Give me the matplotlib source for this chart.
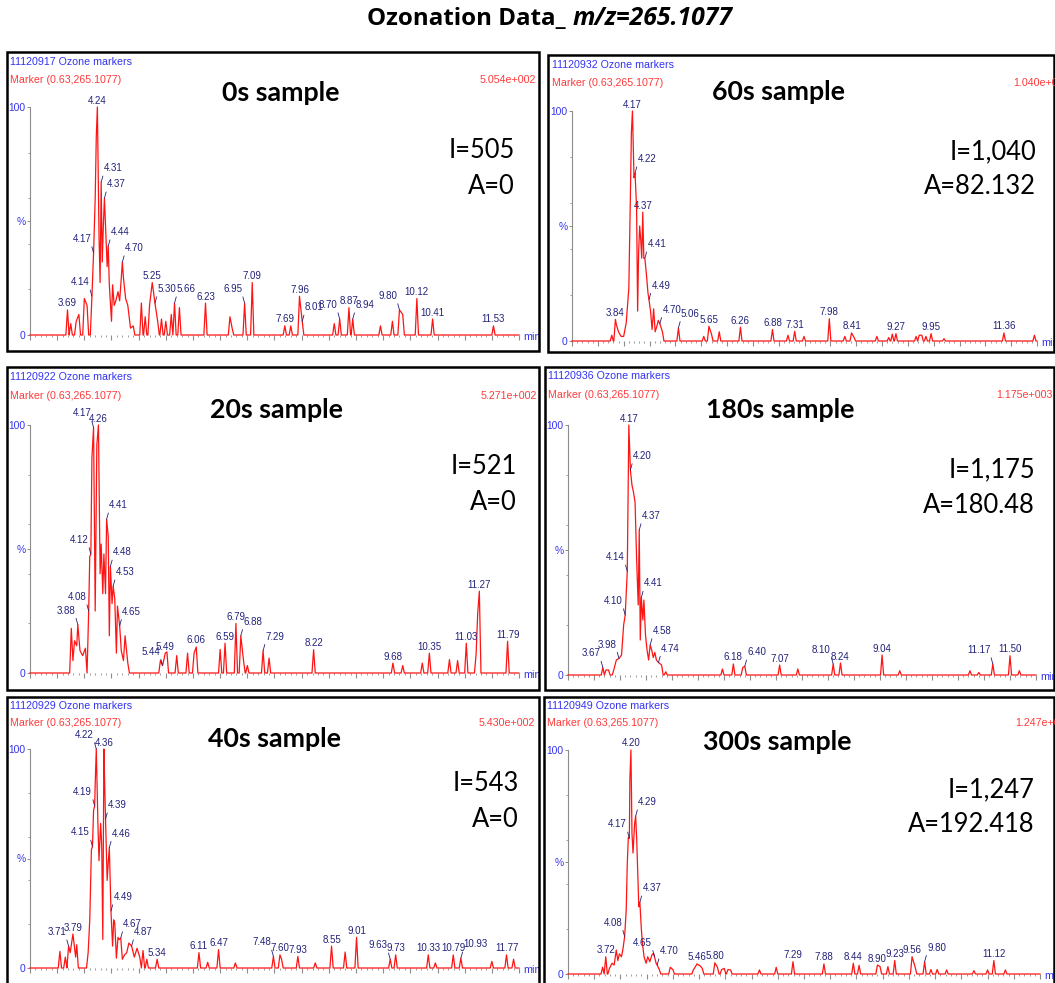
import matplotlib
matplotlib.use("Agg")
import matplotlib.pyplot as plt
from matplotlib.patches import Rectangle
from matplotlib.ticker import MultipleLocator, FixedLocator

W, H = 1055, 983
PX = 0.72  # points per pixel at dpi=100

SMALL = ["Liberation Sans", "DejaVu Sans"]
BIG = ["Lato", "DejaVu Sans"]
TITLE = ["Open Sans", "DejaVu Sans"]

BLUE = "#3434f0"
RED = "#ff3a3a"
NAVY = "#22227a"
GRAY = "#8c8c8c"
TRACE = "#ff1414"

# ---- sample info ----
samples = ["0s", "20s", "40s", "60s", "180s", "300s"]
run_ids = ["11120917", "11120922", "11120929", "11120932", "11120936", "11120949"]
max_int = ["5.054e+002", "5.271e+002", "5.430e+002", "1.040e+003", "1.175e+003", "1.247e+003"]
I_vals = ["505", "521", "543", "1,040", "1,175", "1,247"]
A_vals = ["0", "0", "0", "82.132", "180.48", "192.418"]

# ---- peaks: retention time (min), relative intensity (%) ----
rt_0s = [3.69, 3.75, 3.85, 3.90, 4.00, 4.05, 4.14, 4.17, 4.20, 4.22, 4.24, 4.27, 4.29,
         4.31, 4.33, 4.35, 4.37, 4.39, 4.42, 4.44, 4.46, 4.50, 4.52, 4.55, 4.58, 4.62,
         4.65, 4.68, 4.70, 4.72, 4.76, 4.80, 4.85, 4.90, 5.05, 5.12, 5.20, 5.25, 5.30,
         5.35, 5.42, 5.50, 5.60, 5.66, 5.75, 6.23, 6.68, 6.72, 6.95, 7.09, 7.69, 7.80,
         7.96, 8.01, 8.60, 8.70, 8.87, 8.94, 9.45, 9.67, 9.80, 9.86, 10.12, 10.41, 11.53]
int_0s = [11, 5, 6, 9, 16, 13, 17, 36, 60, 87, 100, 44, 23,
          67, 32, 48, 60, 48, 30, 39, 22, 6, 22, 13, 15, 19,
          15, 25, 32, 25, 16, 13, 3, 4, 14, 8, 13, 23, 14,
          6, 7, 6, 9, 14, 12, 14, 8, 3, 14, 23, 4, 4,
          17, 6, 5, 7, 12, 7, 4, 6, 11, 9, 16, 7, 4]
lab_0s = [3.69, 4.14, 4.17, 4.24, 4.31, 4.37, 4.44, 4.70, 5.25, 5.30, 5.66, 6.23, 6.95,
          7.09, 7.69, 7.96, 8.01, 8.70, 8.87, 8.94, 9.80, 10.12, 10.41, 11.53]
side_0s = "cllcrrrrcrrclcccrlcrlccc"

rt_20s = [3.76, 3.79, 3.82, 3.86, 3.88, 3.92, 3.97, 4.02, 4.08, 4.10, 4.12, 4.14, 4.17,
          4.20, 4.23, 4.26, 4.29, 4.31, 4.34, 4.36, 4.39, 4.41, 4.44, 4.46, 4.48, 4.51,
          4.53, 4.56, 4.59, 4.61, 4.65, 4.68, 4.72, 4.75, 4.80, 5.40, 5.44, 5.49, 5.52,
          5.70, 5.90, 6.02, 6.06, 6.50, 6.59, 6.79, 6.88, 6.93, 7.00, 7.29, 7.40, 8.22,
          9.68, 9.86, 10.22, 10.35, 10.72, 10.87, 11.03, 11.21, 11.24, 11.27, 11.79]
int_20s = [18, 5, 13, 11, 19.5, 9, 7, 10, 25, 47, 48, 87, 99,
           25, 92, 100, 40, 52, 32, 48, 32, 62, 55, 15, 43, 28,
           35, 30, 8, 27, 19, 9, 5, 15, 4, 5, 3, 8, 8.5,
           7, 8, 8, 10.5, 9.5, 12, 20, 15, 5, 3, 9, 6, 9.4,
           4, 3, 4, 8, 5.4, 5, 12, 7.4, 24, 33, 12.8]
lab_20s = [3.88, 4.08, 4.12, 4.17, 4.26, 4.41, 4.48, 4.53, 4.65, 5.44, 5.49, 6.06, 6.59,
           6.79, 6.88, 7.29, 8.22, 9.68, 10.35, 11.03, 11.27, 11.79]
side_20s = "llllcrrrrlccccrrcccccc"

rt_40s = [3.55, 3.65, 3.71, 3.74, 3.79, 3.84, 3.86, 4.07, 4.10, 4.13, 4.15, 4.17, 4.19,
          4.20, 4.22, 4.25, 4.27, 4.30, 4.32, 4.34, 4.36, 4.37, 4.39, 4.42, 4.44, 4.46,
          4.48, 4.49, 4.52, 4.54, 4.56, 4.59, 4.62, 4.64, 4.67, 4.70, 4.74, 4.78, 4.82,
          4.87, 4.92, 4.97, 5.02, 5.08, 5.15, 5.34, 6.11, 6.27, 6.47, 6.78, 7.48, 7.60,
          7.63, 7.93, 8.25, 8.55, 8.80, 9.01, 9.63, 9.73, 10.33, 10.46, 10.79, 10.93,
          11.50, 11.77, 11.90]
int_40s = [7.6, 5, 10, 7, 15.5, 5, 10.6, 7, 22, 54, 55.5, 72, 74,
           84, 100, 66, 49, 66, 56, 13, 100, 89, 68, 40, 48, 55,
           36, 26, 10, 22, 20.5, 4.5, 14, 13, 13.7, 4, 6, 7, 11.4,
           10, 5, 9, 5, 8, 4, 4, 7, 2.6, 8.4, 2.3, 5.3, 6,
           4, 5.3, 2.3, 10, 7.3, 14, 4, 6, 6, 2.3, 6, 4.5,
           3, 6, 4]
lab_40s = [3.71, 3.79, 4.15, 4.19, 4.22, 4.36, 4.39, 4.46, 4.49, 4.67, 4.87, 5.34, 6.11,
           6.47, 7.48, 7.60, 7.93, 8.55, 9.01, 9.63, 9.73, 10.33, 10.79, 10.93, 11.77]
side_40s = "lclllcrrrrrccclccccl cccrc".replace(" ", "")

rt_60s = [3.77, 3.84, 3.86, 3.90, 3.95, 4.00, 4.05, 4.10, 4.13, 4.15, 4.17, 4.20, 4.22,
          4.25, 4.27, 4.29, 4.31, 4.33, 4.35, 4.37, 4.39, 4.41, 4.44, 4.47, 4.49, 4.52,
          4.55, 4.58, 4.61, 4.65, 4.67, 4.70, 4.75, 5.06, 5.55, 5.65, 5.70, 5.85, 6.26,
          6.88, 7.18, 7.31, 7.49, 7.98, 8.28, 8.41, 8.46, 8.90, 9.13, 9.20, 9.27, 9.66,
          9.72, 9.77, 9.85, 9.95, 10.20, 11.36, 11.95]
int_60s = [2.5, 9.4, 7, 4, 2, 2, 8, 23, 63, 91, 100, 71, 73,
           58, 13, 39, 50, 44, 36, 56, 36, 36, 29, 21, 18, 13,
           5, 14, 4, 7, 9, 7.5, 4, 5.7, 2, 6.4, 3, 4, 6,
           5, 2.5, 4.2, 2, 9.7, 2, 3.5, 1.5, 2, 1.5, 3, 3.2, 2,
           2.5, 2.5, 2, 3.2, 1, 3.5, 2.5]
lab_60s = [3.84, 4.17, 4.22, 4.37, 4.41, 4.49, 4.70, 5.06, 5.65, 6.26, 6.88, 7.31, 7.98,
           8.41, 9.27, 9.95, 11.36]
side_60s = "ccrcrrrrccccccccc"

rt_180s = [3.67, 3.73, 3.78, 3.88, 3.93, 3.98, 4.03, 4.07, 4.10, 4.14, 4.17, 4.20, 4.23,
           4.26, 4.29, 4.32, 4.35, 4.37, 4.39, 4.41, 4.44, 4.46, 4.49, 4.52, 4.55, 4.58,
           4.61, 4.64, 4.67, 4.70, 4.74, 4.80, 4.88, 5.97, 6.18, 6.36, 6.40, 7.07, 7.42,
           8.10, 8.24, 9.04, 9.38, 10.73, 10.90, 11.17, 11.50, 11.68]
int_180s = [3, 2, 2, 2, 6, 6.6, 8, 20, 24, 41.5, 100, 82, 76,
            73, 69, 46, 28, 58, 14, 31, 22, 30, 16, 10, 6, 12,
            10, 7, 9, 6, 5, 4, 1.3, 2.4, 4.4, 3, 3.5, 4, 2.4,
            4.4, 4.8, 8, 1.7, 1.7, 1, 4.4, 7.7, 1.7]
lab_180s = [3.67, 3.98, 4.10, 4.14, 4.17, 4.20, 4.37, 4.41, 4.58, 4.74, 6.18, 6.40, 7.07,
            8.10, 8.24, 9.04, 11.17, 11.50]
side_180s = "llllcrrrrrcrclcclc"

rt_300s = [3.66, 3.72, 3.79, 3.84, 3.88, 3.92, 3.95, 3.98, 4.02, 4.05, 4.08, 4.11, 4.13,
           4.15, 4.17, 4.18, 4.20, 4.22, 4.24, 4.27, 4.29, 4.31, 4.33, 4.35, 4.37, 4.40,
           4.42, 4.45, 4.49, 4.52, 4.56, 4.60, 4.63, 4.65, 4.68, 4.70, 4.74, 4.95, 5.00,
           5.39, 5.43, 5.46, 5.52, 5.56, 5.80, 5.85, 5.93, 5.98, 6.05, 6.10, 6.65, 6.97,
           7.29, 7.88, 8.44, 8.55, 8.90, 8.95, 9.10, 9.23, 9.56, 9.62, 9.80, 9.92, 10.04,
           10.22, 10.74, 11.00, 11.12, 11.34]
int_300s = [3, 7.7, 2.5, 4.8, 4, 10.7, 6, 9, 7.7, 11.5, 16.7, 28.6, 49,
            61, 60.6, 87, 100, 62.8, 54, 67, 70.5, 60, 45, 30, 32, 19.6,
            13.7, 7.7, 4.8, 7.7, 5.5, 8.5, 9.2, 7.7, 4.8, 4, 2, 3, 2,
            1.8, 3.3, 4.5, 3.6, 2.5, 5, 3, 2, 2.5, 2, 1.8, 1.8, 3,
            5.5, 4.5, 4.8, 3.9, 4, 3.3, 3.3, 6, 7.7, 3, 5.5, 2, 2,
            1.8, 1.5, 1.8, 6, 1.8]
lab_300s = [3.72, 4.08, 4.17, 4.20, 4.29, 4.37, 4.65, 4.70, 5.46, 5.80, 7.29, 7.88, 8.44,
            8.90, 9.23, 9.56, 9.80, 11.12]
side_300s = "cllcrrlrccccccccrc"

peak_rt = [rt_0s, rt_20s, rt_40s, rt_60s, rt_180s, rt_300s]
peak_int = [int_0s, int_20s, int_40s, int_60s, int_180s, int_300s]
peak_lab = [lab_0s, lab_20s, lab_40s, lab_60s, lab_180s, lab_300s]
peak_side = [side_0s, side_20s, side_40s, side_60s, side_180s, side_300s]

# ---- layout in pixels (from top-left of the image) ----
# panel border: x0, y0, x1, y1
borders = [(7, 52, 539, 351), (7, 367, 539, 690), (7, 697, 539, 992),
           (548, 55, 1054, 352), (545, 367, 1054, 690), (544, 697, 1054, 992)]
# axes: x at 3 min, x at 12 min, y at 100 %, y at 0 %
axboxes = [(30, 519, 107, 335), (30, 519, 425, 673), (30, 519, 749, 968),
           (572, 1037, 111, 341), (568, 1036, 425, 675), (568, 1040, 750, 974)]
# header text: x, y line1, y line2, x of intensity text, its alignment
headers = [(10, 62, 80, 536, "right"), (10, 377, 396, 537, "right"), (10, 706, 723, 535, "right"),
           (552, 65, 83, 1013, "left"), (548, 376, 395, 1053, "right"), (547, 706, 723, 1015, "left")]
# sample name: centre x, baseline y ; I/A: right x, baseline of I, baseline of A
names_xy = [(281, 101), (276, 418), (274, 747), (778, 100), (780, 418), (777, 750)]
ia_xy = [(515, 158, 194), (517, 474, 510), (519, 791, 827),
         (1036, 159, 194), (1035, 477, 513), (1035, 797, 832)]


def fx(x):
    return x / W


def fy(y):
    return 1 - y / H


def spike_trace(rt, inten, w=0.03):
    xs, ys = [3.0], [0.0]
    prev = None
    for t, h in sorted(zip(rt, inten)):
        if prev is None or t - prev > 2 * w:
            if prev is not None:
                xs.append(prev + w)
                ys.append(0.0)
            xs.append(t - w)
            ys.append(0.0)
        xs.append(t)
        ys.append(h)
        prev = t
    xs += [prev + w, 12.0]
    ys += [0.0, 0.0]
    return xs, ys


plt.rcParams["font.family"] = SMALL
fig = plt.figure(figsize=(W / 100, H / 100), dpi=100)

# title
fig.text(fx(566), fy(25), "Ozonation Data_", ha="right", va="baseline",
         fontsize=17.4, fontweight="bold", family=TITLE)
fig.text(fx(573), fy(25), "m/z=265.1077", ha="left", va="baseline",
         fontsize=17.8, fontweight="bold", style="italic", family=TITLE)

for i in range(6):
    x0, y0, x1, y1 = borders[i]
    fig.patches.append(Rectangle((fx(x0), fy(y1)), (x1 - x0) / W, (y1 - y0) / H,
                                 transform=fig.transFigure, fill=False,
                                 ec="black", lw=1.8, clip_on=False))

    xl, xr, y100, y0a = axboxes[i]
    ax = fig.add_axes([fx(xl), fy(y0a), (xr - xl) / W, (y0a - y100) / H])
    ax.patch.set_alpha(0)

    xs, ys = spike_trace(peak_rt[i], peak_int[i])
    ax.plot(xs, ys, color=TRACE, lw=0.9, clip_on=False, zorder=3)
    ax.set_xlim(3, 12)
    ax.set_ylim(0, 100)

    for s in ["top", "right", "bottom"]:
        ax.spines[s].set_visible(False)
    ax.spines["left"].set_color(GRAY)
    ax.spines["left"].set_linewidth(0.8)

    ax.xaxis.set_major_locator(MultipleLocator(0.5))
    ax.xaxis.set_minor_locator(MultipleLocator(0.1))
    ax.tick_params(axis="x", which="major", length=4.5 * PX, width=0.8, color=GRAY,
                   labelbottom=False)
    ax.tick_params(axis="x", which="minor", length=2.5 * PX, width=0.6, color=GRAY)
    ax.set_yticks([0, 50, 100])
    ax.set_yticklabels(["0", "%", "100"])
    ax.yaxis.set_minor_locator(FixedLocator([20, 40, 60, 80]))
    ax.tick_params(axis="y", which="major", length=3 * PX, width=0.7, color=GRAY,
                   labelcolor=BLUE, labelsize=7.4, pad=1)
    ax.tick_params(axis="y", which="minor", length=2 * PX, width=0.6, color=GRAY)

    ax.annotate("min", xy=(12, 0), xytext=(4 * PX, -2 * PX), textcoords="offset points",
                ha="left", va="center", color=BLUE, fontsize=7.8, annotation_clip=False)

    hmap = dict(zip(peak_rt[i], peak_int[i]))
    for t, side in zip(peak_lab[i], peak_side[i]):
        h = hmap[t]
        kw = dict(textcoords="offset points", fontsize=7.0, color=NAVY,
                  va="bottom", annotation_clip=False, zorder=4)
        if side == "c":
            ax.annotate(f"{t:.2f}", (t, h), xytext=(0, 1.5 * PX), ha="center", **kw)
        elif side == "l":
            ax.annotate(f"{t:.2f}", (t, h), xytext=(-2.5 * PX, 9 * PX), ha="right",
                        arrowprops=dict(arrowstyle="-", color=NAVY, lw=0.6,
                                        shrinkA=0, shrinkB=0, relpos=(1, 0)), **kw)
        else:
            ax.annotate(f"{t:.2f}", (t, h), xytext=(2.5 * PX, 9 * PX), ha="left",
                        arrowprops=dict(arrowstyle="-", color=NAVY, lw=0.6,
                                        shrinkA=0, shrinkB=0, relpos=(0, 0)), **kw)

    hx, hy1, hy2, ix, iha = headers[i]
    fig.text(fx(hx), fy(hy1), f"{run_ids[i]} Ozone markers", ha="left", va="center",
             color=BLUE, fontsize=7.7)
    fig.text(fx(hx), fy(hy2), "Marker (0.63,265.1077)", ha="left", va="center",
             color=RED, fontsize=7.7)
    fig.text(fx(ix), fy(hy2), max_int[i], ha=iha, va="center", color=RED, fontsize=7.7)

    nx, ny = names_xy[i]
    fig.text(fx(nx), fy(ny), f"{samples[i]} sample", ha="center", va="baseline",
             fontsize=19.3, fontweight="bold", family=BIG)
    rx, iy, ay = ia_xy[i]
    fig.text(fx(rx), fy(iy), f"I={I_vals[i]}", ha="right", va="baseline",
             fontsize=18.4, family=BIG)
    fig.text(fx(rx), fy(ay), f"A={A_vals[i]}", ha="right", va="baseline",
             fontsize=18.4, family=BIG)

fig.savefig("out.png", dpi=100)
